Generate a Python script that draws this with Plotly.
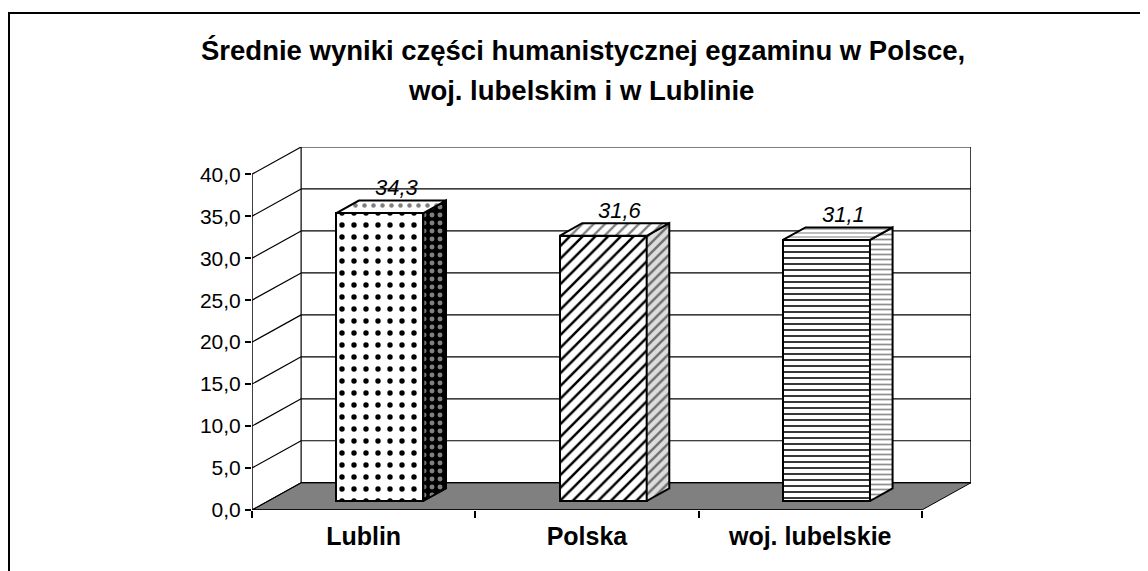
import plotly.graph_objects as go

# ---------------- data ----------------
categories = ["Lublin", "Polska", "woj. lubelskie"]
values = [34.3, 31.6, 31.1]
y_ticks = [0, 5, 10, 15, 20, 25, 30, 35, 40]
title_line1 = "Średnie wyniki części humanistycznej egzaminu w Polsce,"
title_line2 = "woj. lubelskim i w Lublinie"

# ---------------- styles / geometry ----------------
FONT = "Arial, Liberation Sans, sans-serif"
OFF = 8                       # default page body margin in the browser
W, H = 1140, 563
ML, MR, MT, MB = 244, 177, 139, 61
PW, PH = W - ML - MR, H - MT - MB
DX, DY = 0.22, 3.25           # depth vector of the pseudo-3D room (data units)
n = len(categories)
XMAX = n + DX
YMAX = max(y_ticks) + DY
BAR_W = 0.39
D0, D1 = 0.33, 0.79           # depth span of the columns


def paper_x(px):
    return (px - OFF - ML) / PW


def paper_y(py):
    return (H - MB - (py - OFF)) / PH


front_pat = [
    dict(shape=".", size=12, solidity=0.16, fgcolor="black", bgcolor="white"),
    dict(shape="/", size=9, solidity=0.28, fgcolor="black", bgcolor="white"),
    dict(shape="-", size=6, solidity=0.3, fgcolor="#222", bgcolor="white"),
]
side_pat = [
    dict(shape=".", size=8, solidity=0.3, fgcolor="white", bgcolor="black"),
    dict(shape="/", size=7, solidity=0.35, fgcolor="black", bgcolor="#ddd"),
    dict(shape="-", size=5, solidity=0.35, fgcolor="#222", bgcolor="white"),
]
top_pat = [
    dict(shape=".", size=9, solidity=0.2, fgcolor="black", bgcolor="white"),
    dict(shape="/", size=8, solidity=0.3, fgcolor="black", bgcolor="white"),
    dict(shape="-", size=4, solidity=0.3, fgcolor="#222", bgcolor="white"),
]

fig = go.Figure()

shapes = []
ymax_tick = max(y_ticks)
# floor
shapes.append(dict(type="path", xref="x", yref="y", layer="below",
                   path=f"M 0 0 L {n} 0 L {n+DX} {DY} L {DX} {DY} Z",
                   fillcolor="#808080", line=dict(color="black", width=1)))
# walls: gridlines on back wall + diagonals on left wall
for t in y_ticks:
    shapes.append(dict(type="line", xref="x", yref="y", layer="below",
                       x0=DX, y0=t + DY, x1=n + DX, y1=t + DY,
                       line=dict(color="black", width=1.2)))
    shapes.append(dict(type="line", xref="x", yref="y", layer="below",
                       x0=0, y0=t, x1=DX, y1=t + DY,
                       line=dict(color="black", width=1.2)))
# wall edges
shapes.append(dict(type="line", xref="x", yref="y", layer="below",
                   x0=DX, y0=DY, x1=DX, y1=ymax_tick + DY, line=dict(color="black", width=1.2)))
shapes.append(dict(type="line", xref="x", yref="y", layer="below",
                   x0=n + DX, y0=DY, x1=n + DX, y1=ymax_tick + DY, line=dict(color="black", width=1.5)))
# front value axis line and floor front edge
shapes.append(dict(type="line", xref="x", yref="y", layer="above",
                   x0=0, y0=0, x1=0, y1=ymax_tick, line=dict(color="black", width=1.5)))
shapes.append(dict(type="line", xref="x", yref="y", layer="below",
                   x0=0, y0=0, x1=n, y1=0, line=dict(color="black", width=1.5)))
# outer frame (page border): top and left edges only
shapes.append(dict(type="line", xref="paper", yref="paper",
                   x0=paper_x(8), x1=paper_x(1150), y0=paper_y(13), y1=paper_y(13),
                   line=dict(color="black", width=2)))
shapes.append(dict(type="line", xref="paper", yref="paper",
                   x0=paper_x(9), x1=paper_x(9), y0=paper_y(13), y1=paper_y(580),
                   line=dict(color="black", width=2)))

# front faces of columns
xs_front = [i + 0.5 + D0 * DX for i in range(n)]
fig.add_trace(go.Bar(
    x=xs_front, y=values, base=[D0 * DY] * n, width=BAR_W,
    marker=dict(color="white", line=dict(color="black", width=2),
                pattern=dict(shape=[p["shape"] for p in front_pat],
                             size=[p["size"] for p in front_pat],
                             solidity=[p["solidity"] for p in front_pat],
                             fgcolor=[p["fgcolor"] for p in front_pat],
                             bgcolor=[p["bgcolor"] for p in front_pat],
                             fillmode="replace")),
    showlegend=False, hoverinfo="skip"))

# top and side faces
for i, v in enumerate(values):
    x0 = i + 0.5 - BAR_W / 2
    x1 = i + 0.5 + BAR_W / 2
    a0, b0, a1, b1 = D0 * DX, D0 * DY, D1 * DX, D1 * DY
    side_x = [x1 + a0, x1 + a1, x1 + a1, x1 + a0, x1 + a0]
    side_y = [b0, b1, v + b1, v + b0, b0]
    top_x = [x0 + a0, x1 + a0, x1 + a1, x0 + a1, x0 + a0]
    top_y = [v + b0, v + b0, v + b1, v + b1, v + b0]
    for fx, fy, p in ((side_x, side_y, side_pat[i]), (top_x, top_y, top_pat[i])):
        fig.add_trace(go.Scatter(x=fx, y=fy, mode="lines", fill="toself",
                                 fillcolor=p["bgcolor"],
                                 fillpattern=dict(shape=p["shape"], size=p["size"], solidity=p["solidity"],
                                                  fgcolor=p["fgcolor"], bgcolor=p["bgcolor"]),
                                 line=dict(color="black", width=2), showlegend=False, hoverinfo="skip"))

# data labels
annotations = []
for i, v in enumerate(values):
    annotations.append(dict(x=i + 0.5 + (D0 + D1) / 2 * DX, y=v + D1 * DY, xref="x", yref="y",
                            text=f"<i>{v:.1f}</i>".replace(".", ","), showarrow=False,
                            yanchor="middle", yshift=13, xshift=6,
                            font=dict(family=FONT, size=22, color="black")))

# title lines
annotations.append(dict(x=paper_x(583), y=paper_y(50), xref="paper", yref="paper",
                        text=f"<b>{title_line1}</b>", showarrow=False, yanchor="middle",
                        font=dict(family=FONT, size=27.5, color="black")))
annotations.append(dict(x=paper_x(581), y=paper_y(90), xref="paper", yref="paper",
                        text=f"<b>{title_line2}</b>", showarrow=False, yanchor="middle",
                        font=dict(family=FONT, size=27.5, color="black")))

fig.update_layout(
    width=W, height=H, margin=dict(l=ML, r=MR, t=MT, b=MB, pad=0),
    paper_bgcolor="white", plot_bgcolor="white",
    separators=", ",
    shapes=shapes, annotations=annotations,
    xaxis=dict(range=[0, XMAX], showgrid=False, zeroline=False, showline=False,
               tickmode="array", tickvals=[i + 0.5 for i in range(n)],
               ticktext=[f"<b>{c}</b>" for c in categories],
               ticks="", tickfont=dict(family=FONT, size=25, color="black"), ticklabelstandoff=9,
               minor=dict(tickmode="array", tickvals=list(range(n + 1)), ticks="outside",
                          ticklen=7, tickwidth=1.5, tickcolor="black"),
               automargin=False, fixedrange=True),
    yaxis=dict(range=[0, YMAX], showgrid=False, zeroline=False, showline=False,
               tickmode="array", tickvals=y_ticks, tickformat=".1f",
               ticks="outside", ticklen=6, tickwidth=1.5, tickcolor="black",
               tickfont=dict(family=FONT, size=21, color="black"),
               automargin=False, fixedrange=True),
    bargap=0,
)

fig.write_html("out.html", config={"displayModeBar": False},
               post_script="document.documentElement.style.overflow='hidden';"
                           "document.body.style.overflow='hidden';")
